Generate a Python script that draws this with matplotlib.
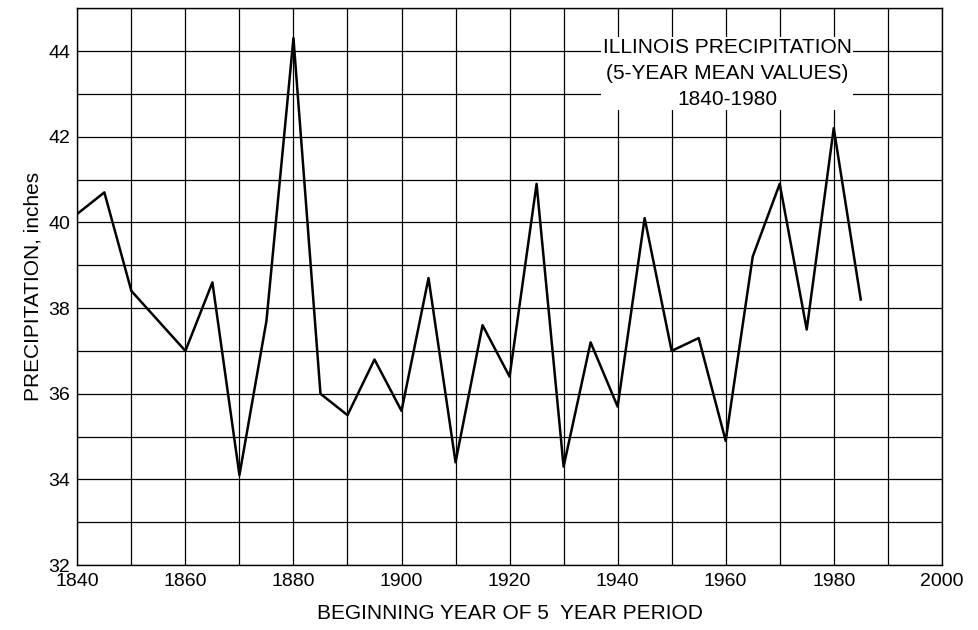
import matplotlib
matplotlib.use('Agg')
import matplotlib.pyplot as plt
import numpy as np

# 5-year mean precipitation, Illinois
years = [1840, 1845, 1850, 1855, 1860, 1865, 1870, 1875, 1880, 1885,
         1890, 1895, 1900, 1905, 1910, 1915, 1920, 1925, 1930, 1935,
         1940, 1945, 1950, 1955, 1960, 1965, 1970, 1975, 1980, 1985]
precip = [40.2, 40.7, 38.4, 37.7, 37.0, 38.6, 34.1, 37.7, 44.3, 36.0,
          35.5, 36.8, 35.6, 38.7, 34.4, 37.6, 36.4, 40.9, 34.3, 37.2,
          35.7, 40.1, 37.0, 37.3, 34.9, 39.2, 40.9, 37.5, 42.2, 38.2]

xticks = [1840, 1860, 1880, 1900, 1920, 1940, 1960, 1980, 2000]
yticks = [32, 34, 36, 38, 40, 42, 44]

plt.rcParams['font.family'] = ['Liberation Sans', 'DejaVu Sans']

fig = plt.figure(figsize=[9.79, 6.30], dpi=100)
ax = fig.add_axes([0.079, 0.103, 0.883, 0.884])

ax.plot(years, precip, color='black', linewidth=1.8, zorder=3)

ax.set_xlim(1840, 2000)
ax.set_ylim(32, 45)
ax.set_xticks(xticks)
ax.set_yticks(yticks)
#grid every 10 years / every inch
ax.set_xticks(np.arange(1840, 2001, 10), minor=True)
ax.set_yticks(np.arange(32, 46, 1), minor=True)
ax.grid(which='both', color='black', linewidth=0.9, zorder=0)
ax.tick_params(which='both', length=0, labelsize=14)
ax.tick_params(axis='x', pad=6)
ax.tick_params(axis='y', pad=5)

for s in ax.spines.values():
    s.set_linewidth(1.0)

ax.set_xlabel('BEGINNING YEAR OF 5  YEAR PERIOD', fontsize=15, labelpad=10)
ax.set_ylabel('PRECIPITATION, inches', fontsize=15, labelpad=4)

ax.text(1960.3, 44.3, 'ILLINOIS PRECIPITATION\n(5-YEAR MEAN VALUES)\n1840-1980',
        ha='center', va='top', fontsize=15, linespacing=1.45, zorder=4,
        bbox=dict(facecolor='white', edgecolor='none', pad=1))

plt.savefig('out.png', dpi=100)
